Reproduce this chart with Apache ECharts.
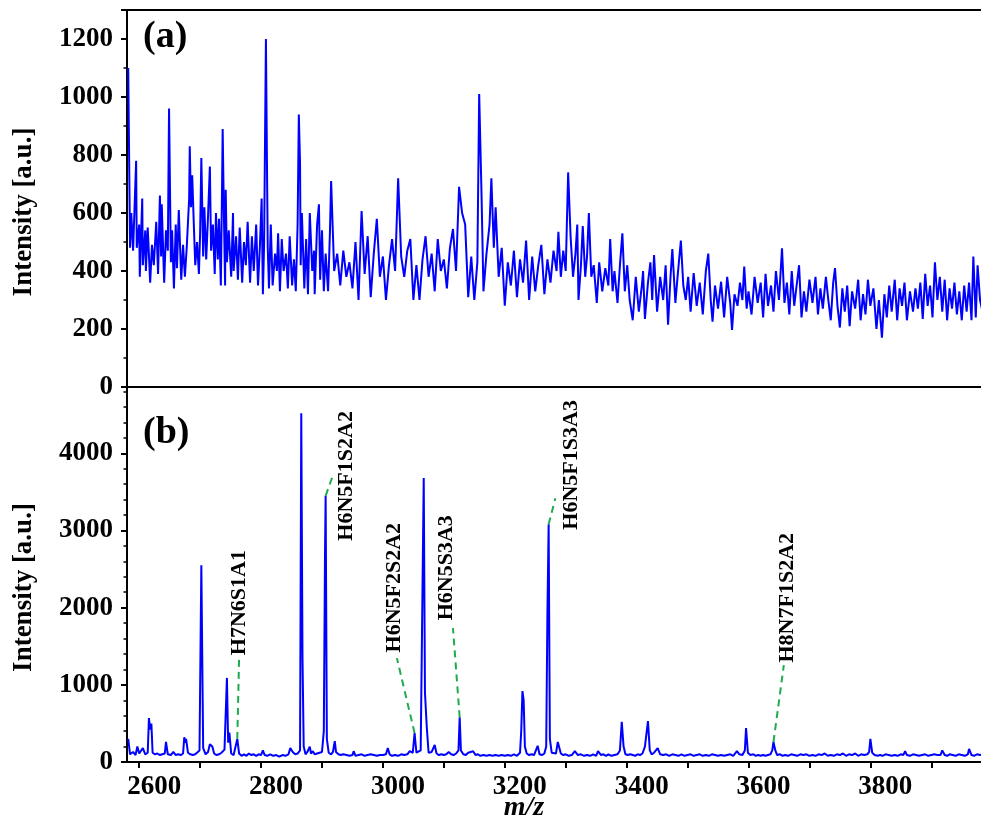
<!DOCTYPE html>
<html>
<head>
<meta charset="utf-8">
<script src="https://cdn.jsdelivr.net/npm/echarts@6/dist/echarts.min.js"></script>
<style>
html,body{margin:0;padding:0;background:#fff;overflow:hidden;}
#chart{width:981px;height:829px;}
</style>
</head>
<body>
<div id="chart"></div>
<script>
// ---------- DATA ----------
// Panel (a): m/z and intensity
const topMz = [2582,2585,2587,2590,2595,2596,2600,2601,2605,2606,2610,2611,2614,2618,2621,2624,2628,2631,2634,2636,2637,2641,2644,2647,2649,2652,2654,2657,2660,2662,2665,2669,2672,2675,2678,2682,2683,2685,2687,2690,2692,2695,2698,2700,2702,2705,2707,2710,2713,2716,2718,2721,2724,2726,2729,2731,2734,2736,2737,2739,2741,2742,2744,2747,2751,2754,2755,2759,2762,2765,2769,2772,2775,2778,2782,2785,2788,2792,2795,2798,2801,2803,2805,2808,2810,2811,2813,2816,2819,2823,2826,2828,2831,2834,2837,2841,2844,2847,2851,2854,2857,2860,2862,2864,2865,2867,2871,2874,2877,2880,2884,2887,2888,2892,2895,2897,2900,2903,2906,2910,2913,
2915,2920,2925,2930,2935,2940,2945,2950,2955,2960,2965,2970,2975,2980,2985,2990,2995,3000,3005,3010,3015,3020,3025,3030,3035,3040,3045,3050,3055,3060,3065,3070,3075,3080,3085,3090,3095,3100,3105,3110,3115,3120,3125,3130,3135,3140,3145,3150,3155,3158,3162,3165,3170,3175,3178,3182,3185,3190,3195,3200,3205,3210,3215,3220,3225,3230,3235,3240,3245,3250,3255,3260,3265,3270,3275,3280,3285,3288,3292,3296,3300,3304,3308,3312,3316,3319,3321,3325,3328,3332,3335,3338,3342,3346,3351,3355,3360,3365,3370,3373,3377,3380,3385,3389,3393,3397,3401,3405,3410,3415,3420,3425,3427,3430,3435,3439,3442,3445,3450,3455,3460,3464,3468,3472,3475,3480,3484,3489,3493,3497,3501,3505,3510,3515,3520,3525,3530,3534,3538,3541,3545,3550,3555,3560,3565,3570,3573,3577,3582,3586,3590,3593,3597,3600,3605,3610,3615,3620,3624,3628,3632,3637,3641,3645,3650,3655,3659,3663,3667,3671,3675,3679,3683,3687,3691,3695,3700,3705,3710,3714,3718,3722,3727,3731,3735,3739,3742,3746,3750,3754,3758,3762,3766,3770,3775,3780,3784,3788,3792,3796,3800,3805,3810,3814,3819,3823,3827,3831,3835,3840,3844,3848,3852,3856,3860,3865,3870,3874,3878,3882,3886,3890,3894,3898,3902,3906,3910,3914,3918,3922,3926,3930,3934,3938,3942,3946,3950,3954,3958,3962,3966,3969,3973,3976,3980,3984,3988,3992,3996];
const topIntensity = [1100,480,600,470,780,480,560,380,650,420,540,400,550,360,490,420,570,390,660,450,630,360,540,470,960,430,540,340,560,410,610,370,490,380,480,650,830,620,730,540,420,500,390,530,790,450,620,440,590,760,470,560,390,600,440,580,350,690,890,600,350,680,430,540,380,600,400,520,370,550,360,500,420,570,360,520,400,560,350,480,650,320,490,1200,700,480,340,560,350,460,400,530,330,510,400,460,340,520,350,440,330,560,940,770,420,600,340,510,320,600,400,470,320,560,630,370,540,330,460,330,530,
710,400,460,350,470,380,430,340,500,300,607,390,520,310,460,580,380,450,300,420,510,400,720,450,380,470,510,300,420,300,440,520,380,460,330,510,400,440,340,480,545,400,690,600,560,310,450,300,430,1010,650,330,460,560,720,480,620,380,480,280,430,350,470,310,440,360,505,300,450,330,420,490,320,440,360,470,400,535,380,470,400,740,520,380,460,560,300,420,555,380,450,600,380,420,290,430,330,410,350,510,330,400,290,420,530,330,420,300,230,380,260,350,400,235,360,430,300,455,260,380,300,420,215,380,476,290,390,505,350,300,380,260,393,280,360,250,400,460,300,225,350,270,363,240,380,290,197,320,280,360,300,415,270,330,250,380,290,360,240,390,280,350,260,400,300,478,290,360,250,400,280,350,420,240,330,260,370,290,380,250,340,270,380,300,230,360,410,280,205,340,260,350,210,330,270,370,230,320,250,370,280,340,200,300,170,320,240,350,260,370,230,340,280,360,230,330,260,340,270,360,235,390,280,350,240,430,300,380,260,370,230,340,270,360,250,330,230,350,260,360,230,450,240,420,300,260,330,220,300];

// Panel (b): m/z and intensity
const bottomMz = [2582,2585,2590,2594,2597,2600,2603,2606,2610,2614,2616,2618,2620,2622,2626,2630,2634,2638,2642,2644,2647,2652,2656,2660,2664,2668,2672,2674,2676,2677,2680,2684,2688,2692,2695,2699,2702,2705,2709,2713,2716,2718,2720,2723,2727,2731,2735,2740,2744,2746,2748,2751,2755,2758,2761,2764,2768,2772,2776,2780,2784,2788,2792,2796,2800,2803,2806,2810,2815,2820,2825,2830,2835,2840,2845,2848,2852,2856,2860,2864,2866,2868,2870,2873,2876,2880,2882,2885,2888,2892,2896,2900,2903,2905,2906,2908,2911,2915,2918,2921,2923,2927,2931,2935,2940,2945,2950,2952,2955,2960,2965,2970,2975,2980,2985,2990,2995,3000,3005,3008,3011,3015,3020,3025,3030,3035,3040,3044,3049,3052,3055,3058,3062,3067,3069,3072,3075,3080,3085,3088,3092,3096,3100,3104,3108,3112,3116,3120,3124,3126,3128,3132,3136,3140,3148,3152,3156,3160,3165,3170,3175,3180,3185,3190,3195,3200,3205,3210,3215,3220,3225,3227,3229,3231,3233,3236,3240,3244,3248,3251,3254,3257,3261,3265,3268,3270,3272,3274,3277,3280,3284,3287,3289,3292,3296,3300,3305,3310,3315,3320,3325,3330,3335,3340,3345,3350,3353,3358,3362,3366,3370,3375,3380,3385,3389,3392,3395,3398,3402,3406,3410,3414,3418,3422,3426,3430,3435,3438,3441,3445,3448,3451,3455,3460,3465,3470,3475,3480,3485,3490,3495,3500,3505,3510,3515,3520,3525,3530,3535,3540,3545,3550,3555,3560,3565,3570,3575,3578,3581,3585,3590,3594,3596,3599,3603,3608,3612,3616,3620,3624,3628,3632,3636,3639,3641,3644,3647,3652,3656,3660,3665,3670,3675,3680,3685,3690,3695,3700,3705,3710,3715,3720,3725,3730,3735,3740,3745,3750,3755,3760,3765,3770,3775,3780,3785,3790,3795,3798,3800,3803,3807,3812,3816,3820,3825,3830,3835,3840,3845,3850,3854,3857,3860,3865,3870,3875,3880,3885,3890,3895,3900,3905,3910,3915,3918,3922,3926,3930,3935,3940,3945,3950,3955,3960,3962,3966,3970,3975,3980,3985,3990,3996];
const bottomIntensity = [300,100,130,90,200,110,90,180,100,120,570,420,500,120,100,110,90,100,110,260,100,90,130,90,100,90,110,320,250,300,120,100,90,100,120,150,2550,180,100,130,230,250,200,110,90,100,120,160,1090,250,380,110,90,100,300,110,80,100,80,110,90,100,80,100,90,150,90,80,100,80,90,70,90,80,100,180,130,100,110,150,4520,1360,200,100,130,200,110,140,100,110,120,130,400,2720,3450,300,120,100,130,270,130,100,90,100,90,80,90,140,80,90,100,80,90,100,90,80,90,90,100,180,100,80,90,80,100,90,100,140,120,375,120,100,150,3680,900,450,120,130,220,110,90,100,90,100,130,100,90,110,150,580,150,100,90,120,140,90,100,80,90,80,90,80,90,80,90,80,90,80,100,80,120,400,920,800,200,110,90,100,90,100,210,100,90,110,200,1930,3080,300,120,130,110,260,200,110,90,100,80,90,140,90,100,80,90,80,100,80,140,90,100,80,100,80,90,100,150,520,200,100,90,100,90,80,100,90,110,200,530,150,100,120,100,180,100,90,100,80,100,90,80,100,80,90,100,80,90,100,80,90,80,100,90,80,90,80,90,100,80,100,140,100,90,150,440,120,90,100,80,90,80,90,80,90,100,150,260,150,90,100,80,90,80,100,90,80,100,90,100,80,90,80,100,90,110,80,90,80,100,90,110,80,100,90,110,80,100,90,100,130,300,120,90,80,90,80,100,90,80,90,80,100,90,140,90,80,100,90,80,90,100,80,90,100,90,90,150,90,80,100,90,80,100,90,80,100,170,90,80,100,90,100,80,90];

// x-axis tick marks and labels
const xTickValues = [2600,2700,2800,2900,3000,3100,3200,3300,3400,3500,3600,3700,3800,3900];
const xLabelValues = [2600,2800,3000,3200,3400,3600,3800];

// peak annotations (names, peak point, leader end, label centre)
const annotNames  = ['H7N6S1A1','H6N5F1S2A2','H6N5F2S2A2','H6N5S3A3','H6N5F1S3A3','H8N7F1S2A2'];
const annotPeakMz = [2761, 2906, 3052, 3126, 3272, 3641];
const annotPeakInt= [300, 3450, 375, 580, 3080, 260];
const annotEndMz  = [2764, 2918, 3023, 3115, 3283, 3658];
const annotEndInt = [1360, 3715, 1346, 1735, 3417, 1256];
const annotTextMz = [2764, 2940, 3019, 3104, 3309, 3663];
const annotTextInt= [2065, 3708, 2259, 2518, 3851, 2129];

// ---------- CHART ----------
const FONT = "'Liberation Serif','Times New Roman',serif";
const pairs = (xs, ys) => xs.map((x, i) => [x, ys[i]]);

const chart = echarts.init(document.getElementById('chart'), null, {renderer: 'canvas'});

const yAxisCommon = {
  type: 'value', min: 0,
  axisLine: {show: true, lineStyle: {color: '#000', width: 2}},
  axisTick: {show: true, inside: false, length: 6, lineStyle: {color: '#000', width: 2}},
  minorTick: {show: true, length: 3.5, lineStyle: {color: '#000', width: 1.5}},
  splitLine: {show: false},
  axisLabel: {
    showMaxLabel: false, margin: 14, color: '#000', fontFamily: FONT, fontSize: 27, fontWeight: 'bold',
    formatter: v => String(v)
  },
  nameLocation: 'middle', nameGap: 89, nameRotate: 90,
  nameTextStyle: {color: '#000', fontFamily: FONT, fontSize: 27, fontWeight: 'bold'}
};

const option = {
  animation: false,
  backgroundColor: '#fff',
  grid: [
    {left: 127, top: 10, height: 377, width: 864, outerBoundsMode: 'none', containLabel: false,
     show: true, borderColor: '#000', borderWidth: 2, backgroundColor: 'transparent'},
    {left: 127, top: 387, height: 375, width: 864, outerBoundsMode: 'none', containLabel: false}
  ],
  xAxis: [
    {gridIndex: 0, type: 'value', min: 2580, max: 3998,
     axisLine: {show: false}, axisTick: {show: false}, axisLabel: {show: false}, splitLine: {show: false}},
    {gridIndex: 1, type: 'value', min: 2580, max: 3998,
     axisLine: {show: true, lineStyle: {color: '#000', width: 2}},
     axisTick: {show: true, customValues: xTickValues, length: 6, lineStyle: {color: '#000', width: 2}},
     axisLabel: {show: true, customValues: xLabelValues, margin: 12, padding: [0, 0, 0, 30],
       color: '#000', fontFamily: FONT, fontSize: 27, fontWeight: 'bold', formatter: v => String(v)},
     splitLine: {show: false}}
  ],
  yAxis: [
    Object.assign({}, yAxisCommon, {gridIndex: 0, max: 1300, interval: 200,
      minorTick: Object.assign({}, yAxisCommon.minorTick, {splitNumber: 2}),
      name: 'Intensity [a.u.]',
      nameTextStyle: Object.assign({}, yAxisCommon.nameTextStyle, {padding: [0, 27, 0, 0]})}),
    Object.assign({}, yAxisCommon, {gridIndex: 1, max: 4860, interval: 1000,
      minorTick: Object.assign({}, yAxisCommon.minorTick, {splitNumber: 5}),
      name: 'Intensity [a.u.]',
      nameTextStyle: Object.assign({}, yAxisCommon.nameTextStyle, {padding: [0, 26, 0, 0]})})
  ],
  series: [
    {type: 'line', xAxisIndex: 0, yAxisIndex: 0, data: pairs(topMz, topIntensity),
     showSymbol: false, symbol: 'none', lineStyle: {color: '#0000ff', width: 2}, z: 3},
    {type: 'line', xAxisIndex: 1, yAxisIndex: 1, data: pairs(bottomMz, bottomIntensity),
     showSymbol: false, symbol: 'none', lineStyle: {color: '#0000ff', width: 2}, z: 3,
     markLine: {
       silent: true, symbol: ['none', 'none'], animation: false,
       lineStyle: {type: [7, 5], color: '#1faa4f', width: 2},
       label: {show: false},
       data: annotNames.map((n, i) => [
         {coord: [annotPeakMz[i], annotPeakInt[i]]},
         {coord: [annotEndMz[i], annotEndInt[i]]}
       ])
     },
     markPoint: {
       silent: true, symbol: 'circle', symbolSize: 0, animation: false,
       itemStyle: {color: 'transparent'},
       label: {show: true, position: 'inside', rotate: 90, formatter: '{b}',
         color: '#000', fontFamily: FONT, fontSize: 22, fontWeight: 'bold'},
       data: annotNames.map((n, i) => ({name: n, coord: [annotTextMz[i], annotTextInt[i]]}))
     }}
  ],
  graphic: [
    {type: 'text', x: 143, y: 37, style: {text: '(a)', font: "bold 38px 'Liberation Serif', serif", fill: '#000', align: 'left', verticalAlign: 'middle'}},
    {type: 'text', x: 143, y: 433, style: {text: '(b)', font: "bold 38px 'Liberation Serif', serif", fill: '#000', align: 'left', verticalAlign: 'middle'}},
    {type: 'text', x: 524, y: 808, style: {text: 'm/z', font: "italic bold 28px 'Liberation Serif', serif", fill: '#000', align: 'center', verticalAlign: 'middle'}}
  ]
};
chart.setOption(option);
</script>
</body>
</html>
